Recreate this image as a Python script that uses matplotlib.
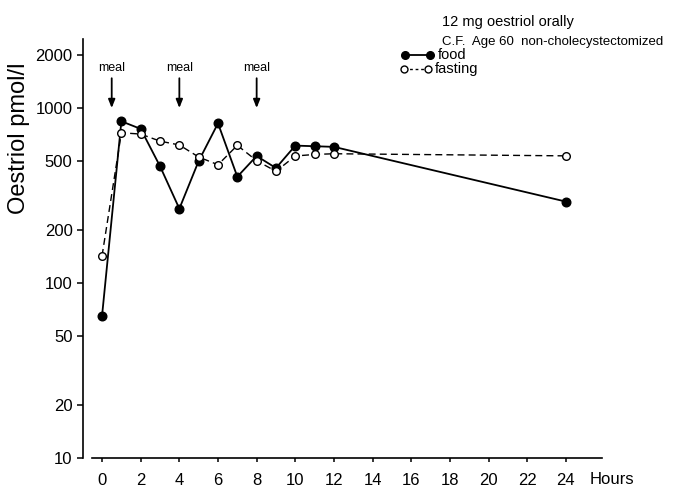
import matplotlib
matplotlib.use("Agg")
import matplotlib.pyplot as plt
from matplotlib.lines import Line2D
from matplotlib.ticker import FixedLocator, NullLocator

plt.rcParams["font.family"] = ["Liberation Sans", "DejaVu Sans"]

hours = [0, 1, 2, 3, 4, 5, 6, 7, 8, 9, 10, 11, 12, 24]
food = [65, 840, 760, 465, 266, 498, 818, 405, 532, 454, 610, 605, 600, 292]
fasting = [143, 722, 710, 647, 615, 525, 474, 612, 500, 435, 532, 543, 548, 533]
meal_times = [0.5, 4, 8]

x_ticks = list(range(0, 25, 2))
y_ticks = [10, 20, 50, 100, 200, 500, 1000, 2000]

fig = plt.figure(figsize=(6.73, 4.87), dpi=100)
ax = fig.add_axes([0.1367, 0.0595, 0.7578, 0.8604])

ax.plot(hours, food, color="black", lw=1.3, marker="o", ms=6.2,
        mfc="black", mec="black", zorder=3)
ax.plot(hours, fasting, color="black", lw=1.0, ls=(0, (5, 3)), marker="o",
        ms=5.5, mfc="white", mec="black", mew=1.0, zorder=4)

ax.set_yscale("log")
ax.set_xlim(-0.52, 25.87)
ax.set_ylim(10, 2480)

ax.yaxis.set_major_locator(FixedLocator(y_ticks))
ax.yaxis.set_minor_locator(NullLocator())
ax.set_yticklabels([str(v) for v in y_ticks])
ax.set_xticks(x_ticks)

for s in ["top", "right"]:
    ax.spines[s].set_visible(False)
ax.spines["left"].set_position(("outward", 6.5))
ax.spines["left"].set_linewidth(1.2)
ax.spines["bottom"].set_linewidth(1.2)

ax.tick_params(axis="y", direction="out", length=4.5, width=1.1, pad=3, labelsize=12)
ax.tick_params(axis="x", direction="out", length=3, width=1.1, pad=8, labelsize=12)

ax.set_ylabel("Oestriol pmol/l", fontsize=17)
ax.yaxis.set_label_coords(-0.122, 0.764)

fig.text(590 / 673, 1 - 479 / 487, "Hours", fontsize=12, ha="left", va="center")

for t in meal_times:
    ax.annotate("", xy=(t, 1000), xytext=(t, 1480),
                arrowprops=dict(arrowstyle="-|>,head_length=0.5,head_width=0.2",
                                color="black", lw=1.3, shrinkA=0, shrinkB=0))
    ax.text(t, 1700, "meal", fontsize=9, ha="center", va="center")

# key in the top right corner
fig.text(442 / 673, 1 - 22 / 487, "12 mg oestriol orally", fontsize=10.5,
         ha="left", va="center")
fig.text(442 / 673, 1 - 42 / 487, "C.F.  Age 60  non-cholecystectomized",
         fontsize=9.5, ha="left", va="center")
fig.add_artist(Line2D([405 / 673, 430 / 673], [1 - 55 / 487, 1 - 55 / 487],
                      color="black", lw=1.3, marker="o", ms=5.5, mfc="black",
                      transform=fig.transFigure))
fig.text(438 / 673, 1 - 55 / 487, "food", fontsize=10.5, ha="left", va="center")
fig.add_artist(Line2D([404 / 673, 428 / 673], [1 - 69 / 487, 1 - 69 / 487],
                      color="black", lw=1.0, ls=(0, (2, 2)), marker="o", ms=5,
                      mfc="white", mec="black", transform=fig.transFigure))
fig.text(435 / 673, 1 - 69 / 487, "fasting", fontsize=10.5, ha="left", va="center")

fig.savefig("out.png", dpi=100)
